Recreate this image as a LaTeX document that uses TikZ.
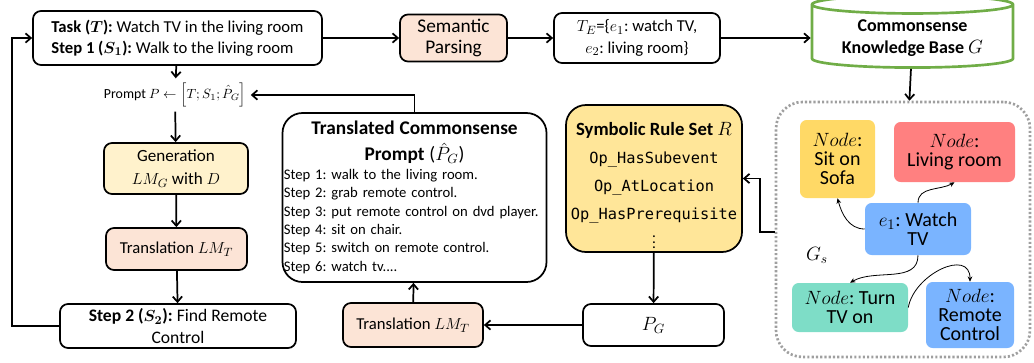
\documentclass[tikz,border=0pt]{standalone}
\usepackage{amsmath}
\usepackage{fontspec}
\setmainfont{Carlito}
\setmonofont{DejaVu Sans Mono}
\usetikzlibrary{arrows.meta, positioning, shapes.geometric}
\definecolor{peach}{RGB}{252,228,214}
\definecolor{paleyellow}{RGB}{255,242,204}
\definecolor{ruleyellow}{RGB}{255,230,153}
\definecolor{sofayellow}{RGB}{255,217,102}
\definecolor{roomred}{RGB}{255,128,128}
\definecolor{nodeblue}{RGB}{122,180,255}
\definecolor{nodeteal}{RGB}{126,221,199}
\definecolor{kbgreen}{RGB}{112,173,71}
\tikzset{
  box/.style={draw, line width=1.3pt, rounded corners=6pt, align=center, inner sep=2pt,
    font=\fontsize{12.5}{16}\selectfont},
  gnode/.style={rounded corners=5pt, align=center, inner sep=1pt,
    font=\fontsize{15}{14}\selectfont},
  arr/.style={line width=1.3pt, -{Straight Barb[length=4pt, width=7pt]}},
  garr/.style={line width=0.6pt, -{Stealth[length=4pt, width=3.5pt]}}
}

\begin{document}
\frenchspacing
\begin{tikzpicture}[x=0.75pt, y=-0.75pt]
        \useasboundingbox (0,0) rectangle (1034,362);
        % top row
        \node[box, align=left, minimum width=216.75pt, minimum height=40.5pt] (task) at (177.5,38)
          {\textbf{Task ($\boldsymbol{T}$):} Watch TV in the living room\\
           \textbf{Step 1 ($\boldsymbol{S_1}$):} Walk to the living room};
        \node[box, fill=peach, minimum width=80.25pt, minimum height=35.25pt,
          font=\fontsize{14.5}{16}\selectfont] (parse) at (453.5,38)
          {Semantic\\Parsing};
        \node[box, minimum width=124.5pt, minimum height=37.5pt] (te) at (637,38)
          {$T_E$=\{$e_1$: watch TV,\\ $e_2$: living room\}};
        \node[cylinder, shape border rotate=90, aspect=0.12, draw=kbgreen, line width=2pt,
          minimum width=150.75pt, minimum height=51.75pt, align=center,
          font=\fontsize{13.5}{17}\selectfont] (kb) at (912.5,38)
          {\textbf{Commonsense}\\\textbf{Knowledge Base} $G$};
        \draw[arr] (task) -- (parse);
        \draw[arr] (parse) -- (te);
        \draw[arr] (te) -- (kb);

        % left column
        \node[font=\fontsize{10.4}{12}\selectfont] (prompt) at (175,95)
          {Prompt $P \leftarrow \left[T; S_1; \hat{P}_G\right]$};
        \node[box, fill=paleyellow, minimum width=108pt, minimum height=38.25pt,
          font=\fontsize{12.8}{17}\selectfont] (gen) at (176,168.5)
          {Generation\\ $LM_G$ with $D$};
        \node[box, fill=peach, minimum width=105.75pt, minimum height=31.5pt] (transl) at (176.5,249)
          {Translation $LM_T$};
        \node[box, minimum width=177pt, minimum height=33pt,
          font=\fontsize{13.2}{16}\selectfont] (step2) at (178,326)
          {\textbf{Step 2 ($\boldsymbol{S_2}$):} Find Remote\\ Control};
        \coordinate (loop) at (12,326);
        \draw[arr] (task) -- (prompt);
        \draw[arr] (prompt) -- (gen);
        \draw[arr] (gen) -- (transl);
        \draw[arr] (transl) -- (step2);
        \draw[arr] (step2.west) -- (loop) |- (task.west);

        % commonsense prompt
        \node[box, rounded corners=15pt, align=left, text width=196pt, minimum height=126.75pt,
          inner sep=1pt, font=\fontsize{11}{13.8}\selectfont] (tcp) at (414.5,197.5)
          {{\centering\fontsize{14.5}{19.5}\selectfont\bfseries Translated Commonsense\\
            Prompt \mdseries($\hat{P}_G$)\par}
           Step 1: walk to the living room.\\
           Step 2: grab remote control.\\
           Step 3: put remote control on dvd player.\\
           Step 4: sit on chair.\\
           Step 5: switch on remote control.\\
           Step 6: watch tv....};
        \node[box, fill=peach, minimum width=105pt, minimum height=33pt] (tr2) at (413,325)
          {Translation $LM_T$};
        \draw[arr] (tcp.north) |- (prompt.east);
        \draw[arr] (tr2) -- (tcp);

        % rule set
        \node[box, fill=ruleyellow, rounded corners=15pt, minimum width=132pt, minimum height=110.25pt,
          font=\fontsize{11.5}{21}\selectfont] (rules) at (654,178.5)
          {\rule{0pt}{20pt}{\fontsize{14}{15}\selectfont\bfseries Symbolic Rule Set \mdseries$R$}\\
           \texttt{Op\_HasSubevent}\\ \texttt{Op\_AtLocation}\\ \texttt{Op\_HasPrerequisite}\\[1pt]
           $\vdots$};
        \node[box, minimum width=105.75pt, minimum height=31.5pt,
          font=\fontsize{14}{16}\selectfont] (pg) at (653.5,325) {$P_G$};
        \draw[arr] (rules) -- (pg);
        \draw[arr] (pg) -- (tr2);

        % retrieved subgraph
        \node[draw=gray!75, line width=2pt, dash pattern=on 1.6pt off 1.6pt, rounded corners=20pt,
          minimum width=190.5pt, minimum height=191.25pt] (gs) at (903,229.5) {};
        \node[gnode, fill=sofayellow, minimum width=56.25pt, minimum height=58.5pt] (sofa) at (837.5,159)
          {$Node$:\\Sit on\\Sofa};
        \node[gnode, fill=roomred, minimum width=90.75pt, minimum height=45pt] (living) at (954.5,152)
          {$Node$:\\Living room};
        \node[gnode, fill=nodeblue, minimum width=79.5pt, minimum height=39pt] (e1) at (918,229)
          {$e_1$: Watch\\TV};
        \node[gnode, fill=nodeteal, minimum width=87pt, minimum height=36.75pt] (turn) at (850,307.5)
          {$Node$: Turn\\TV on};
        \node[gnode, fill=nodeblue, minimum width=66pt, minimum height=49.5pt] (remote) at (970,315)
          {$Node$:\\Remote\\Control};
        \node[font=\fontsize{14}{14}\selectfont] (gslabel) at (817,255) {$G_s$};
        \draw[garr] (e1.west) to[out=180, in=-75] (sofa.south);
        \draw[garr] (e1.north) to[out=90, in=-150] (living.south);
        \draw[garr] (e1.south) to[out=-90, in=30] (turn.north);
        \draw[garr] (turn.east) to[out=80, in=90, looseness=1.3] (remote.north);
        \coordinate (bend) at (760,232);
        \draw[arr] (kb) -- (gs);
        \draw[arr] (gs.west |- bend) -- (bend) |- (rules.east);
\end{tikzpicture}
\end{document}
